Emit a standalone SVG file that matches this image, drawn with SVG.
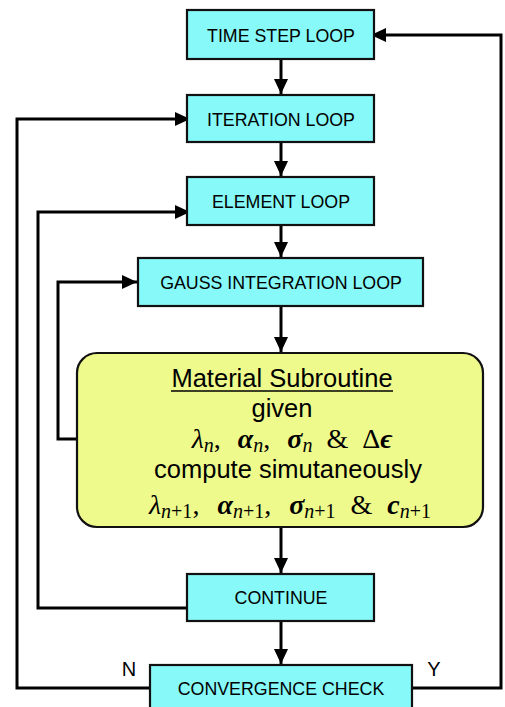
<svg xmlns="http://www.w3.org/2000/svg" width="505" height="707" viewBox="0 0 505 707">
<style>
.box{fill:#88f9f9;stroke:#111;stroke-width:2.2}
.mat{fill:#eefa8c;stroke:#111;stroke-width:2.2}
.lbl{font-family:"Liberation Sans",Arial,sans-serif;font-size:17.8px;fill:#000;text-anchor:middle}
.big{font-family:"Liberation Sans",Arial,sans-serif;font-size:25.5px;fill:#000;text-anchor:middle}
.math{font-family:"Liberation Serif","Times New Roman",serif;font-size:28px;fill:#000;text-anchor:middle}
.it{font-style:italic}
.bi{font-style:italic;font-weight:bold}
.sub{font-style:italic;font-size:20px}
.up{font-style:normal}
.con{fill:none;stroke:#000;stroke-width:3}
.yn{font-family:"Liberation Sans",Arial,sans-serif;font-size:20px;fill:#000;text-anchor:middle}
</style>
<defs>
<marker id="ah" markerUnits="userSpaceOnUse" markerWidth="16" markerHeight="14" refX="15" refY="7" orient="auto">
<path d="M0,0 L15,7 L0,14 Z" fill="#000"/>
</marker>
</defs>
<g id="connectors">
<path class="con" d="M281,59 V94" marker-end="url(#ah)"/>
<path class="con" d="M281,142 V176" marker-end="url(#ah)"/>
<path class="con" d="M281,225 V257" marker-end="url(#ah)"/>
<path class="con" d="M281,306 V352" marker-end="url(#ah)"/>
<path class="con" d="M281,527 V573" marker-end="url(#ah)"/>
<path class="con" d="M281,621 V664" marker-end="url(#ah)"/>
<path class="con" d="M77,439 H58 V282 H137" marker-end="url(#ah)"/>
<path class="con" d="M187,608 H38 V212 H190" marker-end="url(#ah)"/>
<path class="con" d="M150,688 H17 V119 H190" marker-end="url(#ah)"/>
<path class="con" d="M412,688 H501 V35 H371" marker-end="url(#ah)"/>
</g>
<g id="time-step-loop"><rect class="box" x="187" y="10" width="187" height="49"/><text class="lbl" x="281" y="42">TIME STEP LOOP</text></g>
<g id="iteration-loop"><rect class="box" x="187" y="95" width="187" height="47"/><text class="lbl" x="281" y="126">ITERATION LOOP</text></g>
<g id="element-loop"><rect class="box" x="187" y="177" width="187" height="48"/><text class="lbl" x="281" y="208">ELEMENT LOOP</text></g>
<g id="gauss-integration-loop"><rect class="box" x="138" y="258" width="285" height="48"/><text class="lbl" x="281" y="289">GAUSS INTEGRATION LOOP</text></g>
<g id="material-subroutine">
<rect class="mat" x="77" y="353" width="406" height="174" rx="20" ry="20"/>
<text class="big" x="282" y="387">Material Subroutine</text>
<line x1="171" y1="391" x2="393" y2="391" stroke="#000" stroke-width="1.3"/>
<text class="big" x="282" y="417">given</text>
<text class="math" x="292" y="448"><tspan class="it">λ</tspan><tspan class="sub" dy="4">n</tspan><tspan dy="-4">,</tspan><tspan class="bi" dx="17">α</tspan><tspan class="sub" dy="4">n</tspan><tspan dy="-4">,</tspan><tspan class="bi" dx="17">σ</tspan><tspan class="sub" dy="4">n</tspan><tspan dy="-4" dx="14">&amp;</tspan><tspan dx="14">Δ</tspan><tspan class="bi">ϵ</tspan></text>
<text class="big" x="288" y="478">compute simutaneously</text>
<text class="math" x="290" y="514"><tspan class="it">λ</tspan><tspan class="sub" dy="4">n<tspan class="up">+1</tspan></tspan><tspan dy="-4">,</tspan><tspan class="bi" dx="18">α</tspan><tspan class="sub" dy="4">n<tspan class="up">+1</tspan></tspan><tspan dy="-4">,</tspan><tspan class="bi" dx="18">σ</tspan><tspan class="sub" dy="4">n<tspan class="up">+1</tspan></tspan><tspan dy="-4" dx="15">&amp;</tspan><tspan class="bi" dx="15">c</tspan><tspan class="sub" dy="4">n<tspan class="up">+1</tspan></tspan></text>
</g>
<g id="continue"><rect class="box" x="187" y="574" width="187" height="47"/><text class="lbl" x="281" y="604">CONTINUE</text></g>
<g id="convergence-check"><rect class="box" x="150" y="665" width="262" height="50"/><text class="lbl" x="281" y="695">CONVERGENCE CHECK</text></g>
<text class="yn" x="129" y="676">N</text>
<text class="yn" x="434" y="676">Y</text>
</svg>
